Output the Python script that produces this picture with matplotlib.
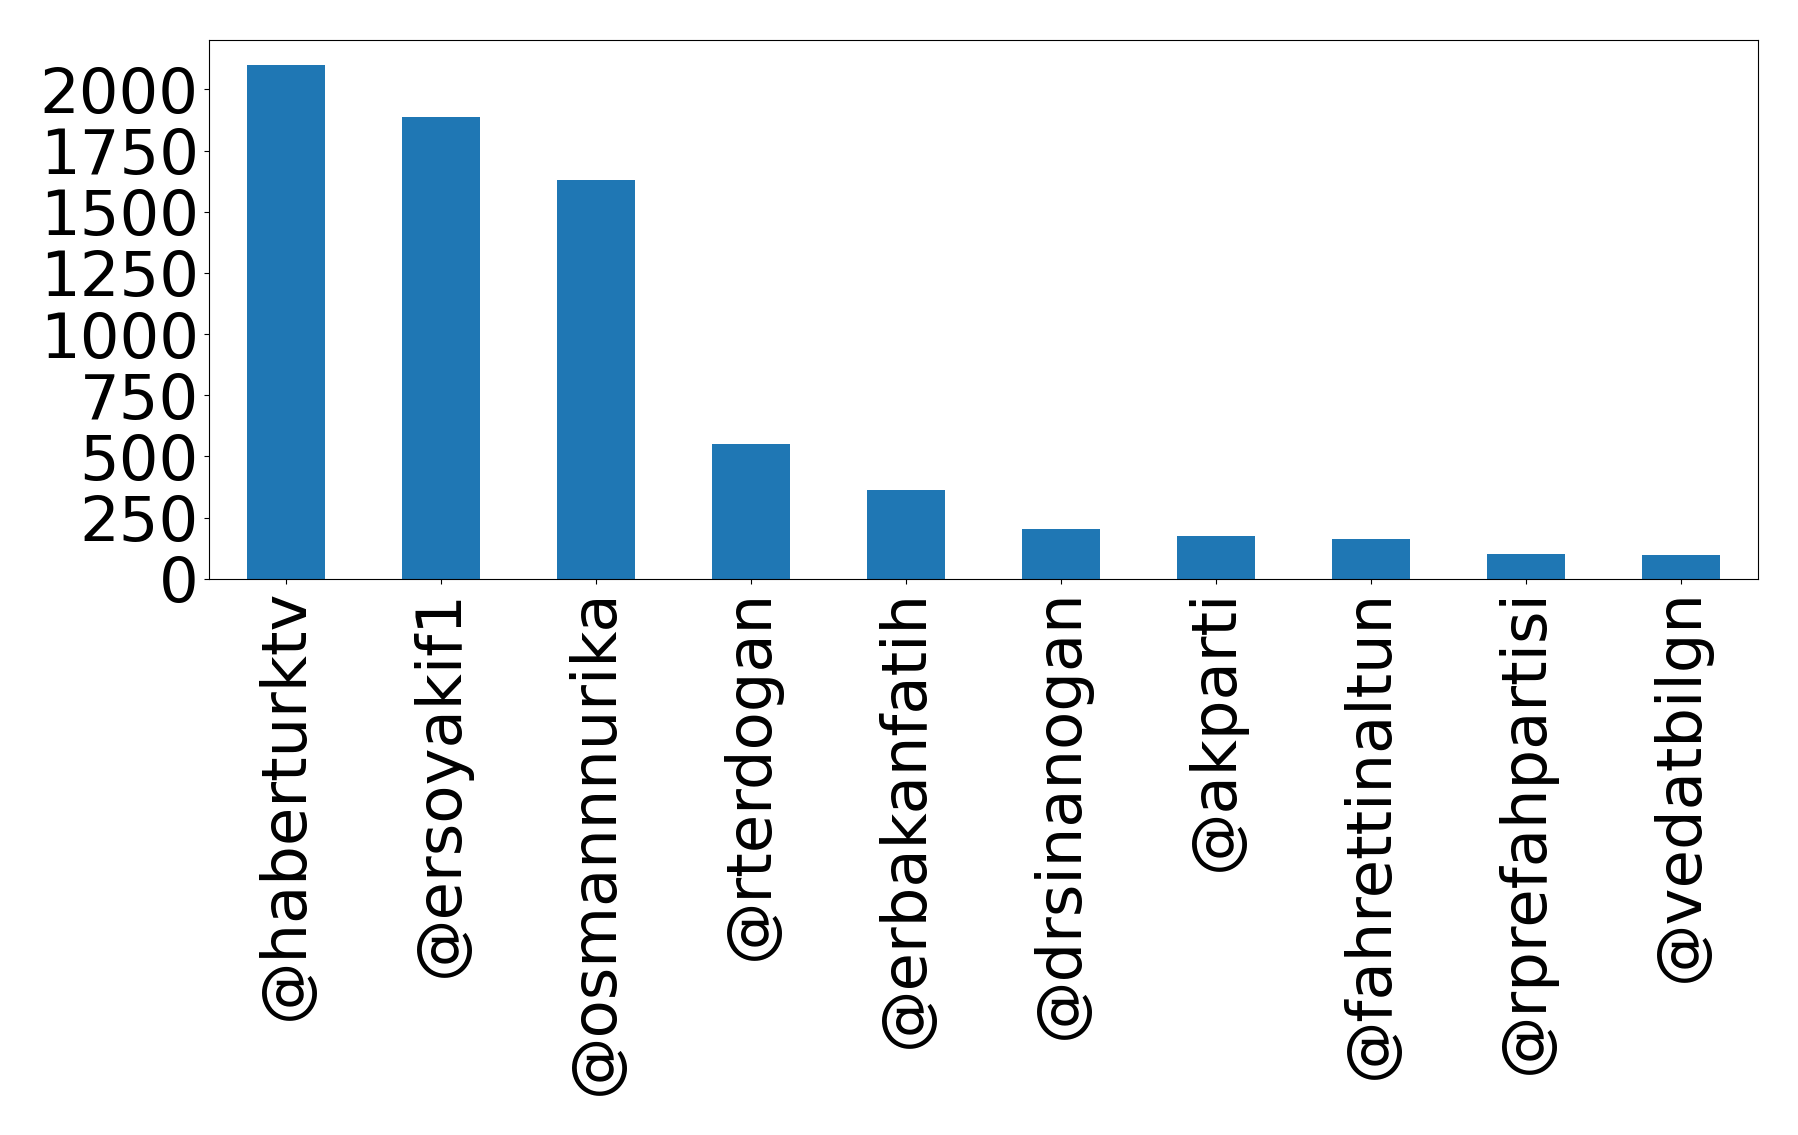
import matplotlib
matplotlib.use("Agg")
import matplotlib.pyplot as plt

accounts = ["@haberturktv", "@ersoyakif1", "@osmannnurika", "@rterdogan", "@erbakanfatih",
            "@drsinanogan", "@akparti", "@fahrettinaltun", "@rprefahpartisi", "@vedatbilgn"]
counts = [2098, 1886, 1630, 552, 364, 205, 177, 161, 103, 99]

fig = plt.figure(figsize=(17.98, 11.35), dpi=100)
ax = fig.add_axes([0.116, 0.49, 0.862, 0.475])
x = list(range(len(accounts)))
ax.bar(x, counts, width=0.5, color="#1f77b4")
ax.set_xlim(-0.5, len(accounts) - 0.5)
ax.set_xticks(x)
ax.set_xticklabels(accounts, rotation=90, fontsize=45)
ax.set_yticks([0, 250, 500, 750, 1000, 1250, 1500, 1750, 2000])
ax.tick_params(axis="y", labelsize=45)
fig.savefig("out.png", dpi=100)
